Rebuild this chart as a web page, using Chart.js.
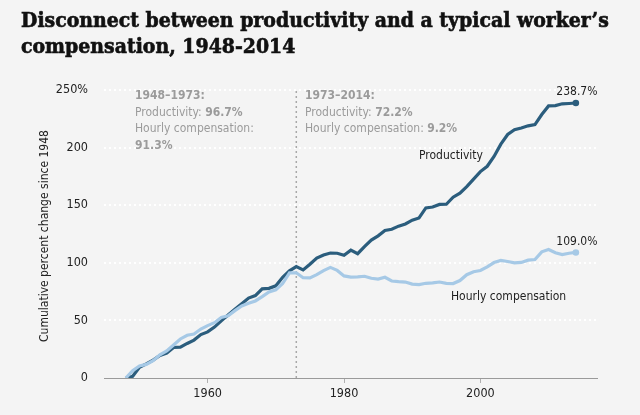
<!DOCTYPE html>
<html>
<head>
<meta charset="utf-8">
<script src="https://cdn.jsdelivr.net/npm/chart.js@4"></script>
<style>
html,body{margin:0;padding:0;background:#f4f4f4;}
#wrap{width:640px;height:415px;position:relative;}
</style>
</head>
<body>
<div id="wrap"><canvas id="c" width="640" height="415"></canvas></div>
<script>
const years = [1948,1949,1950,1951,1952,1953,1954,1955,1956,1957,1958,1959,1960,1961,1962,1963,1964,1965,1966,1967,1968,1969,1970,1971,1972,1973,1974,1975,1976,1977,1978,1979,1980,1981,1982,1983,1984,1985,1986,1987,1988,1989,1990,1991,1992,1993,1994,1995,1996,1997,1998,1999,2000,2001,2002,2003,2004,2005,2006,2007,2008,2009,2010,2011,2012,2013,2014];
const productivity = [0,1.5,9.3,12.2,15.6,19.5,21.6,26.5,26.8,30.0,32.9,37.7,40.0,44.2,49.6,54.7,59.6,64.5,69.4,71.5,77.4,77.8,80.0,87.4,93.0,96.7,93.8,98.7,104.1,106.8,108.5,108.3,106.6,111.0,107.9,114.1,119.7,123.4,128.0,129.1,131.8,133.7,137.0,138.9,147.6,148.4,150.7,150.8,156.9,160.5,166.1,172.6,179.2,183.8,192.3,203.0,211.4,215.5,217.0,218.9,220.0,228.7,236.2,236.4,238.0,238.3,238.7];
const compensation = [0,6.3,10.5,11.8,15.0,20.1,23.5,28.7,33.9,37.1,38.1,42.5,45.5,48.0,52.5,54.0,58.5,62.5,64.9,66.9,70.7,74.7,76.6,82.0,91.3,91.3,87.0,86.9,89.7,93.2,96.0,93.4,88.6,87.6,87.8,88.3,86.6,85.9,87.4,84.2,83.6,83.3,81.5,81.0,82.2,82.5,83.3,82.1,82.0,84.6,89.7,92.3,93.3,96.4,100.2,102.0,101.1,100.0,100.3,102.3,102.8,109.5,111.5,108.7,107.1,108.3,109.0];
const yTicks = [0,50,100,150,200,250];
const xTicks = [1960,1980,2000];
const titleLines = ["Disconnect between productivity and a typical worker\u2019s","compensation, 1948-2014"];
const yTitle = "Cumulative percent change since 1948";
const splitYear = 1973;

const SANS = "'Liberation Sans Narrow','DejaVu Sans Condensed',sans-serif";
const PROD_C = '#2b5d7d';
const COMP_C = '#a6c9e6';
const GRAY = '#9b9b9b';

function mkData(vals){ return years.map((y,i)=>({x:y,y:vals[i]})); }
const lastIdx = years.length-1;

const overlay = {
  id:'overlay',
  beforeDatasetsDraw(chart){
    const {ctx, chartArea, scales:{x,y}} = chart;
    const px = x.getPixelForValue(splitYear);
    ctx.save();
    ctx.strokeStyle = '#a8a8a8';
    ctx.lineWidth = 1.5;
    ctx.setLineDash([2,3]);
    ctx.beginPath();
    ctx.moveTo(px, chartArea.top+1);
    ctx.lineTo(px, chartArea.bottom);
    ctx.stroke();
    ctx.restore();
  },
  afterDraw(chart){
    const {ctx, scales:{x,y}} = chart;
    ctx.save();
    // title
    ctx.fillStyle = '#111';
    ctx.strokeStyle = '#111';
    ctx.lineWidth = 0.6;
    ctx.font = "bold 21px 'DejaVu Serif Condensed','DejaVu Serif',serif";
    ctx.textBaseline = 'alphabetic';
    ctx.textAlign = 'left';
    ctx.fillText(titleLines[0], 21, 27);
    ctx.strokeText(titleLines[0], 21, 27);
    ctx.fillText(titleLines[1], 21, 53);
    ctx.strokeText(titleLines[1], 21, 53);
    // y title
    ctx.save();
    ctx.translate(45, 236);
    ctx.rotate(-Math.PI/2);
    ctx.textAlign='center'; ctx.textBaseline='middle';
    ctx.fillStyle='#222';
    ctx.font = "12px "+SANS;
    ctx.fillText(yTitle,0,0);
    ctx.restore();
    // annotations
    function mixed(parts, x0, yy){
      let cx = x0;
      parts.forEach(p=>{
        ctx.font = (p.b?'bold ':'')+"12px "+SANS;
        ctx.fillText(p.t, cx, yy);
        cx += ctx.measureText(p.t).width;
      });
    }
    ctx.fillStyle = GRAY;
    ctx.textAlign='left'; ctx.textBaseline='middle';
    const ax1 = 135, ax2 = 305;
    mixed([{t:'1948\u20131973:',b:true}], ax1, 96);
    mixed([{t:'Productivity: '},{t:'96.7%',b:true}], ax1, 112.5);
    mixed([{t:'Hourly compensation:'}], ax1, 129);
    mixed([{t:'91.3%',b:true}], ax1, 145.5);
    mixed([{t:'1973\u20132014:',b:true}], ax2, 96);
    mixed([{t:'Productivity: '},{t:'72.2%',b:true}], ax2, 112.5);
    mixed([{t:'Hourly compensation: '},{t:'9.2%',b:true}], ax2, 129);
    // series labels
    ctx.fillStyle = '#1e1e1e';
    ctx.font = "12px "+SANS;
    ctx.fillText('Productivity', 419, 156);
    ctx.fillText('Hourly compensation', 451, 297);
    ctx.textAlign='center';
    const ex = x.getPixelForValue(years[lastIdx]);
    ctx.fillText(productivity[lastIdx].toFixed(1)+'%', ex+1, y.getPixelForValue(productivity[lastIdx])-11);
    ctx.fillText(compensation[lastIdx].toFixed(1)+'%', ex+1, y.getPixelForValue(compensation[lastIdx])-11);
    ctx.restore();
  }
};

new Chart(document.getElementById('c'), {
  type:'line',
  data:{
    datasets:[
      {label:'Hourly compensation', data:mkData(compensation), borderColor:COMP_C, backgroundColor:COMP_C, borderWidth:3.2,
       pointRadius:c=>c.dataIndex===lastIdx?3.3:0, pointBorderWidth:0, pointHoverRadius:0, tension:0},
      {label:'Productivity', data:mkData(productivity), borderColor:PROD_C, backgroundColor:PROD_C, borderWidth:3.2,
       pointRadius:c=>c.dataIndex===lastIdx?3.3:0, pointBorderWidth:0, pointHoverRadius:0, tension:0}
    ]
  },
  options:{
    responsive:false, animation:false, devicePixelRatio:1,
    layout:{padding:{top:90,right:43,left:0,bottom:0}},
    plugins:{legend:{display:false}, tooltip:{enabled:false}, title:{display:false}},
    scales:{
      x:{type:'linear', min:1944.8, max:2017.1,
         afterBuildTicks(s){ s.ticks = xTicks.map(v=>({value:v})); },
         afterFit(s){ s.height = 37; },
         grid:{drawOnChartArea:false, drawTicks:true, tickLength:5, color:'#b0b0b0'},
         border:{display:true, color:'#9a9a9a', width:1},
         ticks:{color:'#222', font:{family:SANS, size:12.5}, padding:3, maxRotation:0, callback:v=>String(v)}
      },
      y:{min:0, max:250,
         afterBuildTicks(s){ s.ticks = yTicks.map(v=>({value:v})); },
         afterFit(s){ s.width = 104; },
         grid:{drawTicks:false, color:c=>c.tick && c.tick.value===0?'rgba(0,0,0,0)':'#ffffff', lineWidth:2},
         border:{display:false, dash:[2,3]},
         ticks:{color:'#222', font:{family:SANS, size:12.5}, padding:16, callback:v=>v===250?'250%':String(v)}
      }
    }
  },
  plugins:[overlay]
});
</script>
</body>
</html>
